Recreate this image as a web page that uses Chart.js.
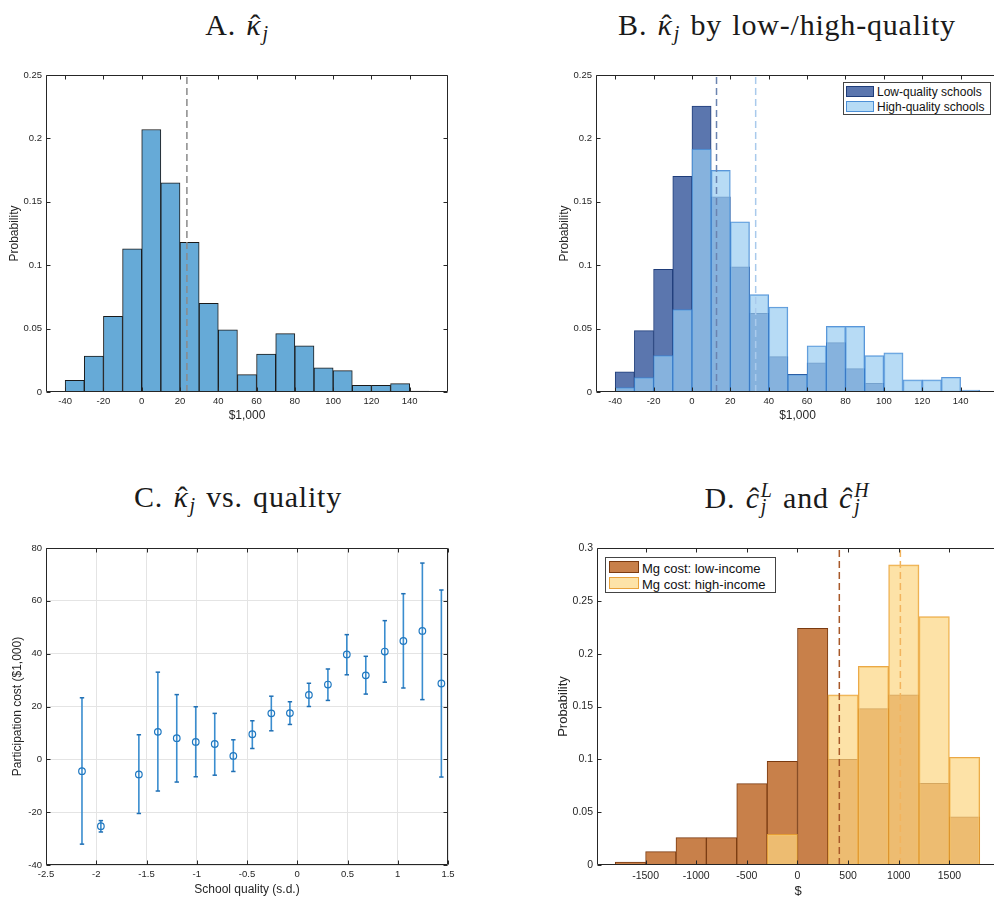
<!DOCTYPE html>
<html>
<head>
<meta charset="utf-8">
<title>Participation cost estimates</title>
<script src="https://cdn.jsdelivr.net/npm/chart.js@4.4.1/dist/chart.umd.min.js"></script>
<style>
  html, body { margin: 0; padding: 0; background: #fff; overflow: hidden; width: 994px; height: 897px; }
  body { position: relative; }
  canvas { position: absolute; }
  .ttl { position: absolute; font-family: "Liberation Serif", serif; font-size: 30px; line-height: 30px; letter-spacing: 0.8px; word-spacing: 2px; white-space: nowrap; transform: translateX(-50%); color: #1a1a1a; z-index: 2; }
  .hat { position: relative; display: inline-block; font-style: italic; }
  .acc { position: absolute; left: 0.12em; right: 0; text-align: center; top: 0; font-style: normal; }
  .sb { font-style: italic; font-size: 20px; position: relative; top: 5px; margin-left: 1px; }
  .ss { display: inline-block; font-style: italic; font-size: 20px; line-height: 16px; vertical-align: -5px; margin-left: 1px; }
  .ss span { display: block; }
  .leg { position: absolute; box-sizing: border-box; background: #fff; border: 1px solid #444; z-index: 2; font-family: "Liberation Sans", Arial, sans-serif; color: #111; }
  .sw { position: absolute; box-sizing: border-box; border: 1px solid; }
  .lt { position: absolute; white-space: nowrap; line-height: 1; transform: translateY(-50%); }
</style>
</head>
<body>

<div class="ttl" style="left:237px;top:10px">A. <span class="hat">κ<span class="acc">ˆ</span></span><span class="sb">j</span></div>
<div class="ttl" style="left:787px;top:10px">B. <span class="hat">κ<span class="acc">ˆ</span></span><span class="sb">j</span> by low-/high-quality</div>
<div class="ttl" style="left:238px;top:482px">C. <span class="hat">κ<span class="acc">ˆ</span></span><span class="sb">j</span> vs. quality</div>
<div class="ttl" style="left:787px;top:482px">D. <span class="hat">c<span class="acc">ˆ</span></span><span class="ss"><span>L</span><span>j</span></span> and <span class="hat">c<span class="acc">ˆ</span></span><span class="ss"><span>H</span><span>j</span></span></div>

<div class="leg" style="left:843px;top:82px;width:148px;height:33px;font-size:12px">
  <span class="sw" style="left:2px;top:3px;width:28px;height:11px;background:#5b76ae;border-color:#1f3d7a"></span>
  <span class="lt" style="left:33px;top:9px">Low-quality schools</span>
  <span class="sw" style="left:2px;top:18px;width:28px;height:11px;background:#b6dbf5;border-color:#4c8fd6"></span>
  <span class="lt" style="left:33px;top:24px">High-quality schools</span>
</div>

<div class="leg" style="left:605px;top:557px;width:171px;height:36px;font-size:13px">
  <span class="sw" style="left:3px;top:3px;width:30px;height:12px;background:#c8804a;border-color:#7a3a10"></span>
  <span class="lt" style="left:36px;top:9.5px">Mg cost: low-income</span>
  <span class="sw" style="left:3px;top:19px;width:30px;height:12px;background:#fde3a8;border-color:#e8a23c"></span>
  <span class="lt" style="left:36px;top:25.5px">Mg cost: high-income</span>
</div>

<canvas id="panelA"></canvas>
<canvas id="panelB"></canvas>
<canvas id="panelC"></canvas>
<canvas id="panelD"></canvas>

<script>
// A / B: histogram of kappa_j, bins of $10k (left edges)
const kappaBins = [-40, -30, -20, -10, 0, 10, 20, 30, 40, 50, 60, 70, 80, 90, 100, 110, 120, 130, 140];
const kappaAll = [0.0092, 0.0284, 0.0597, 0.113, 0.207, 0.165, 0.118, 0.070, 0.049, 0.0137, 0.030, 0.046, 0.0365, 0.019, 0.0168, 0.0053, 0.0053, 0.0066, 0.0008];
const kappaLow = [0.016, 0.0484, 0.0967, 0.170, 0.2255, 0.154, 0.0988, 0.062, 0.0279, 0.0139, 0.0231, 0.0389, 0.0184, 0.0068, 0, 0, 0, 0, 0];
const kappaHigh = [0.0034, 0.0113, 0.0287, 0.065, 0.1916, 0.1748, 0.1343, 0.0768, 0.067, 0.0137, 0.0365, 0.0518, 0.0518, 0.0287, 0.0308, 0.0095, 0.0095, 0.0116, 0.0016];
const kappaMean = [23.6];
const kappaMeanLow = [12.8];
const kappaMeanHigh = [33.2];
const kappaTicks = [-40, -20, 0, 20, 40, 60, 80, 100, 120, 140];
const probTicks = [0, 0.05, 0.1, 0.15, 0.2, 0.25];

// C: kappa_j by school quality bin, with confidence bands
const qualityX = [-2.142, -1.954, -1.576, -1.387, -1.199, -1.010, -0.821, -0.636, -0.447, -0.258, -0.073, 0.116, 0.305, 0.493, 0.682, 0.871, 1.056, 1.245, 1.434];
const qualityEst = [-4.5, -25.3, -5.7, 10.4, 8.0, 6.6, 5.8, 1.3, 9.5, 17.4, 17.5, 24.4, 28.3, 39.7, 31.8, 40.8, 44.8, 48.6, 28.7];
const qualityLo = [-32.1, -27.5, -20.5, -12.0, -8.6, -6.6, -6.0, -4.6, 4.1, 10.8, 13.2, 20.0, 22.3, 32.0, 24.7, 29.2, 27.0, 22.6, -6.7];
const qualityHi = [23.3, -23.2, 9.3, 33.0, 24.5, 19.9, 17.4, 7.4, 14.6, 23.9, 21.8, 28.8, 34.2, 47.2, 39.0, 52.5, 62.7, 74.3, 64.1];
const qualityTicksX = [-2.5, -2, -1.5, -1, -0.5, 0, 0.5, 1, 1.5];
const qualityTicksY = [-40, -20, 0, 20, 40, 60, 80];

// D: marginal cost histograms, bins of $300 (left edges)
const costBins = [-1800, -1500, -1200, -900, -600, -300, 0, 300, 600, 900, 1200, 1500];
const costLow = [0.0028, 0.0126, 0.0259, 0.0259, 0.077, 0.098, 0.224, 0.100, 0.148, 0.161, 0.0774, 0.0455];
const costHigh = [0, 0, 0, 0, 0, 0.029, 0, 0.161, 0.188, 0.284, 0.235, 0.102];
const costMeanLow = [413];
const costMeanHigh = [1016];
const costTicks = [-1500, -1000, -500, 0, 500, 1000, 1500];
const probTicksD = [0, 0.05, 0.1, 0.15, 0.2, 0.25, 0.3];

const AXIS = "#262626";
const GRID = "#e4e4e4";

Chart.defaults.font.family = '"Liberation Sans", Arial, sans-serif';
Chart.defaults.color = AXIS;
Chart.defaults.animation = false;

const fmt = (v) => String(Math.round(v * 1000) / 1000);

// frame + inward tick marks on all four sides, like the original axes box
const boxFrame = {
  id: "boxFrame",
  afterDatasetsDraw(chart) {
    const { ctx, chartArea: a, scales } = chart;
    const L = Math.round(a.left) + 0.5;
    const R = Math.round(a.right) - 0.5;
    const T = Math.round(a.top) + 0.5;
    const B = Math.round(a.bottom) - 0.5;
    ctx.save();
    ctx.strokeStyle = AXIS;
    ctx.lineWidth = 1;
    ctx.beginPath();
    scales.x.ticks.forEach((t) => {
      const px = Math.round(scales.x.getPixelForValue(t.value)) + 0.5;
      ctx.moveTo(px, B);
      ctx.lineTo(px, B - 4);
      ctx.moveTo(px, T);
      ctx.lineTo(px, T + 4);
    });
    scales.y.ticks.forEach((t) => {
      const py = Math.round(scales.y.getPixelForValue(t.value)) + 0.5;
      ctx.moveTo(L, py);
      ctx.lineTo(L + 4, py);
      ctx.moveTo(R, py);
      ctx.lineTo(R - 4, py);
    });
    ctx.rect(L, T, R - L, B - T);
    ctx.stroke();
    ctx.restore();
  },
};

function axes(o) {
  return {
    x: {
      type: "linear",
      min: o.xMin,
      max: o.xMax,
      offset: false,
      grid: { display: !!o.grid, color: GRID, drawTicks: false, offset: false },
      border: { display: false },
      afterBuildTicks: (s) => { s.ticks = o.xTicks.map((v) => ({ value: v })); },
      afterFit: (s) => { s.height = o.xHeight; },
      ticks: { font: { size: o.tick }, color: AXIS, padding: o.xPad, maxRotation: 0, autoSkip: false, callback: fmt },
      title: { display: true, text: o.xTitle, color: AXIS, font: { size: o.label }, padding: { top: 0, bottom: o.xTitlePad } },
    },
    y: {
      type: "linear",
      min: o.yMin,
      max: o.yMax,
      grid: { display: !!o.grid, color: GRID, drawTicks: false },
      border: { display: false },
      afterBuildTicks: (s) => { s.ticks = o.yTicks.map((v) => ({ value: v })); },
      afterFit: (s) => { s.width = o.yWidth; },
      ticks: { font: { size: o.tick }, color: AXIS, padding: 4, autoSkip: false, callback: fmt },
      title: { display: true, text: o.yTitle, color: AXIS, font: { size: o.label }, padding: { top: o.yTitlePad, bottom: 0 } },
    },
  };
}

// box = canvas rect on the page, plot = wanted plot-area rect on the page
function makeChart(id, box, plot, type, datasets, o) {
  const canvas = document.getElementById(id);
  canvas.style.left = box.left + "px";
  canvas.style.top = box.top + "px";
  canvas.width = box.w;
  canvas.height = box.h;
  o.xHeight = box.top + box.h - plot.bottom;
  o.yWidth = plot.left - box.left;
  return new Chart(canvas, {
    type,
    data: { datasets },
    options: {
      responsive: false,
      devicePixelRatio: 1,
      events: [],
      layout: { padding: { top: plot.top - box.top, right: box.left + box.w - plot.right, left: 0, bottom: 0 } },
      plugins: { legend: { display: false }, tooltip: { enabled: false } },
      scales: axes(o),
    },
    plugins: [boxFrame],
  });
}

function histSet(edges, width, values, style) {
  return Object.assign({
    type: "bar",
    data: edges.map((e, i) => ({ x: e + width / 2, y: values[i] })).filter((p) => p.y > 0),
    barPercentage: 1,
    categoryPercentage: 1,
    grouped: false,
    borderSkipped: false,
    borderWidth: 1,
  }, style);
}

function meanLine(xs, top, color, order) {
  return {
    type: "line",
    data: [{ x: xs[0], y: 0 }, { x: xs[0], y: top }],
    borderColor: color,
    borderWidth: 1.5,
    borderDash: [7, 4],
    pointRadius: 0,
    fill: false,
    order,
  };
}

// Panel A
makeChart("panelA",
  { left: 0, top: 60, w: 460, h: 368 },
  { left: 46, top: 75, right: 448, bottom: 392 },
  "bar",
  [
    histSet(kappaBins, 10, kappaAll, { backgroundColor: "#66aad7", borderColor: "#1a1a1a", order: 2 }),
    meanLine(kappaMean, 0.25, "#8a8a8a", 0),
  ],
  { xMin: -50, xMax: 160, yMin: 0, yMax: 0.25, xTicks: kappaTicks, yTicks: probTicks,
    xTitle: "$1,000", yTitle: "Probability", tick: 9.5, label: 12, xPad: 4, xTitlePad: 4.8, yTitlePad: 7.8 });

// Panel B
makeChart("panelB",
  { left: 540, top: 60, w: 470, h: 368 },
  { left: 596, top: 75, right: 999, bottom: 392 },
  "bar",
  [
    histSet(kappaBins, 10, kappaLow, { backgroundColor: "#5b76ae", borderColor: "#1f3d7a", order: 4 }),
    histSet(kappaBins, 10, kappaHigh, { backgroundColor: "rgba(152,204,241,0.7)", borderColor: "rgba(60,132,210,0.85)", order: 3 }),
    meanLine(kappaMeanLow, 0.25, "#6a83b0", 1),
    meanLine(kappaMeanHigh, 0.25, "#a9caec", 0),
  ],
  { xMin: -50, xMax: 160, yMin: 0, yMax: 0.25, xTicks: kappaTicks, yTicks: probTicks,
    xTitle: "$1,000", yTitle: "Probability", tick: 9.5, label: 12, xPad: 4, xTitlePad: 4.8, yTitlePad: 17.8 });

// Panel C: error bars as one broken line, caps drawn as 'line' point markers
const errorBarData = [];
qualityX.forEach((x, i) => {
  errorBarData.push({ x, y: qualityLo[i] }, { x, y: qualityHi[i] }, { x, y: null });
});

makeChart("panelC",
  { left: 0, top: 530, w: 460, h: 375 },
  { left: 46, top: 548, right: 448, bottom: 865 },
  "scatter",
  [
    {
      type: "scatter",
      data: qualityX.map((x, i) => ({ x, y: qualityEst[i] })),
      pointStyle: "circle",
      pointRadius: 3.3,
      pointBackgroundColor: "rgba(0,0,0,0)",
      pointBorderColor: "#1f78c1",
      pointBorderWidth: 1.2,
      order: 0,
    },
    {
      type: "line",
      data: errorBarData,
      borderColor: "#3a8dcf",
      borderWidth: 1.6,
      spanGaps: false,
      fill: false,
      pointStyle: "line",
      pointRadius: 2.2,
      pointBorderColor: "#1f6fb4",
      pointBorderWidth: 1.5,
      order: 1,
    },
  ],
  { xMin: -2.5, xMax: 1.5, yMin: -40, yMax: 80, xTicks: qualityTicksX, yTicks: qualityTicksY, grid: true,
    xTitle: "School quality (s.d.)", yTitle: "Participation cost ($1,000)", tick: 9.5, label: 12, xPad: 4, xTitlePad: 7.8, yTitlePad: 10.8 });

// Panel D
makeChart("panelD",
  { left: 540, top: 530, w: 470, h: 375 },
  { left: 597, top: 548, right: 999, bottom: 865 },
  "bar",
  [
    histSet(costBins, 300, costLow, { backgroundColor: "#c8804a", borderColor: "#7a3a10", order: 4 }),
    histSet(costBins, 300, costHigh, { backgroundColor: "rgba(252,214,129,0.7)", borderColor: "rgba(232,158,50,0.9)", order: 3 }),
    meanLine(costMeanLow, 0.3, "#a8592a", 1),
    meanLine(costMeanHigh, 0.3, "#f2b45e", 0),
  ],
  { xMin: -1980, xMax: 1990, yMin: 0, yMax: 0.3, xTicks: costTicks, yTicks: probTicksD,
    xTitle: "$", yTitle: "Probability", tick: 10.5, label: 13, xPad: 5, xTitlePad: 5.5, yTitlePad: 15.2 });
</script>
</body>
</html>
